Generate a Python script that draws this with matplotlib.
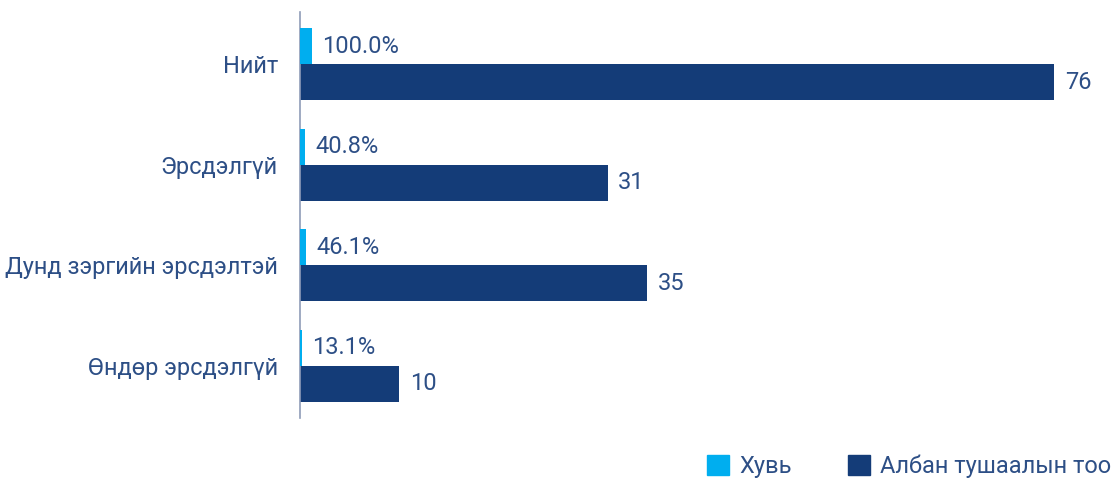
import matplotlib.pyplot as plt
from matplotlib.patches import Patch

plt.rcParams['font.family'] = ['Roboto', 'DejaVu Sans']

categories = ["Нийт", "Эрсдэлгүй", "Дунд зэргийн эрсдэлтэй", "Өндөр эрсдэлгүй"]
share_pct = [100.0, 40.8, 46.1, 13.1]
positions = [76, 31, 35, 10]
series_names = ["Хувь", "Албан тушаалын тоо"]

light_blue = "#00aeef"
dark_blue = "#143c78"
text_color = "#2d4f86"
fs = 17

fig = plt.figure(figsize=(11.16, 4.78), dpi=100)
ax = fig.add_axes([300 / 1116, 60 / 478, 816 / 1116, 406 / 478])
ax2 = ax.twiny()  # percent series on its own (hidden) scale

h = 0.36
ys = list(range(len(categories)))

ax2.barh([y - h / 2 for y in ys], share_pct, height=h, color=light_blue)
ax.barh([y + h / 2 for y in ys], positions, height=h, color=dark_blue)

for y, p in zip(ys, share_pct):
    ax2.annotate(f"{p:.1f}%", (p, y - h / 2), xytext=(7.5, 0), textcoords="offset points",
                 va="center", ha="left", fontsize=fs, color=text_color)
for y, v in zip(ys, positions):
    ax.annotate(f"{v}", (v, y + h / 2), xytext=(7.5, 0), textcoords="offset points",
                va="center", ha="left", fontsize=fs, color=text_color)

for a in (ax, ax2):
    a.set_ylim(len(categories) - 0.48, -0.52)
    a.set_xticks([])
    for s in ["top", "right", "bottom", "left"]:
        a.spines[s].set_visible(False)
ax.set_xlim(0, 82.2)
ax2.set_xlim(0, 6800)
ax.set_yticks(ys)
ax.set_yticklabels(categories, fontsize=fs, color=text_color)
ax.tick_params(axis="y", length=0, pad=16)
ax.spines["left"].set_visible(True)
ax.spines["left"].set_color("#8f9cb8")
ax.spines["left"].set_linewidth(1.2)

handles = [Patch(color=light_blue), Patch(color=dark_blue)]
fig.legend(handles, series_names, loc="lower right", bbox_to_anchor=(1.015, -0.045), ncol=2,
           frameon=False, handlelength=0.9, handleheight=0.9,
           columnspacing=2.4, handletextpad=0.45, labelcolor=text_color,
           prop={"size": fs})

fig.savefig("out.png", dpi=100)
